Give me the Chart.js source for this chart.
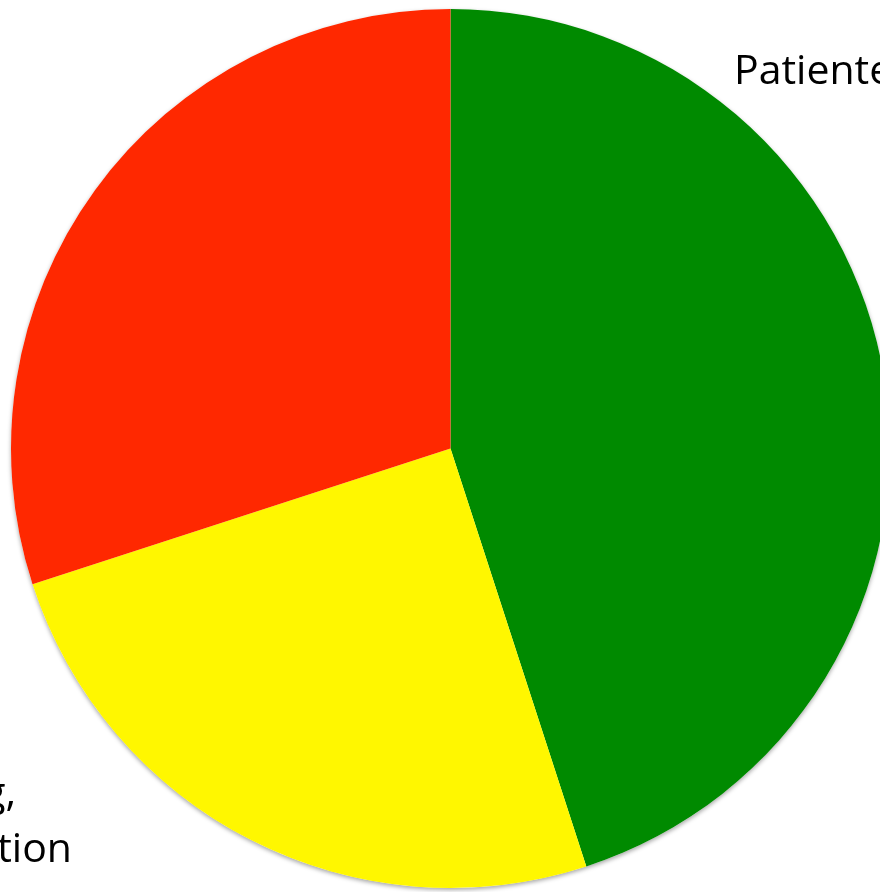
<!DOCTYPE html>
<html>
<head>
<meta charset="utf-8">
<script src="https://cdn.jsdelivr.net/npm/chart.js@4/dist/chart.umd.min.js"></script>
<style>
    html, body { margin: 0; padding: 0; background: #fff; overflow: hidden; }
    #wrap { position: relative; width: 900px; height: 892px; }
</style>
</head>
<body>
<div id="wrap"><canvas id="pie" width="900" height="892"></canvas></div>
<script>
// 圓餅資料（順時針，由 12 點方向開始）
const slices = ['Patiente', 'g, tion', 'rest'];
const shares = [45, 25, 30];
const sliceColors = ['#008a00', '#fff700', '#ff2800'];

// 圖上文字（部分被畫面邊界切掉）
const textTop = 'Patiente';
const textBottomLines = ['g,', 'tion'];

// 圓底下一層淡淡的陰影
const shadowPlugin = {
    id: 'pieShadow',
    beforeDatasetsDraw(chart) {
        const arc = chart.getDatasetMeta(0).data[0];
        if (!arc) return;
        const ctx = chart.ctx;
        ctx.save();
        ctx.shadowColor = 'rgba(0,0,0,0.35)';
        ctx.shadowBlur = 4;
        ctx.shadowOffsetY = 2;
        ctx.beginPath();
        ctx.arc(arc.x, arc.y, arc.outerRadius, 0, Math.PI * 2);
        ctx.fillStyle = '#ffffff';
        ctx.fill();
        ctx.restore();
    }
};

// 文字標籤
const labelPlugin = {
    id: 'sideLabels',
    afterDraw(chart) {
        const ctx = chart.ctx;
        ctx.save();
        ctx.fillStyle = '#000';
        ctx.font = '41px "Open Sans", sans-serif';
        ctx.textBaseline = 'alphabetic';
        ctx.textAlign = 'left';
        ctx.fillText(textTop, 734, 84);
        ctx.textAlign = 'right';
        ctx.fillText(textBottomLines[0], 16, 806);
        ctx.fillText(textBottomLines[1], 72, 862);
        ctx.restore();
    }
};

new Chart(document.getElementById('pie'), {
    type: 'pie',
    data: {
        labels: slices,
        datasets: [{
            data: shares,
            backgroundColor: sliceColors,
            borderWidth: 0,
            hoverOffset: 0
        }]
    },
    options: {
        responsive: false,
        animation: false,
        devicePixelRatio: 1,
        layout: { padding: { left: 11, right: 10, top: 9, bottom: 4 } },
        plugins: {
            legend: { display: false },
            tooltip: { enabled: false }
        }
    },
    plugins: [shadowPlugin, labelPlugin]
});
</script>
</body>
</html>
